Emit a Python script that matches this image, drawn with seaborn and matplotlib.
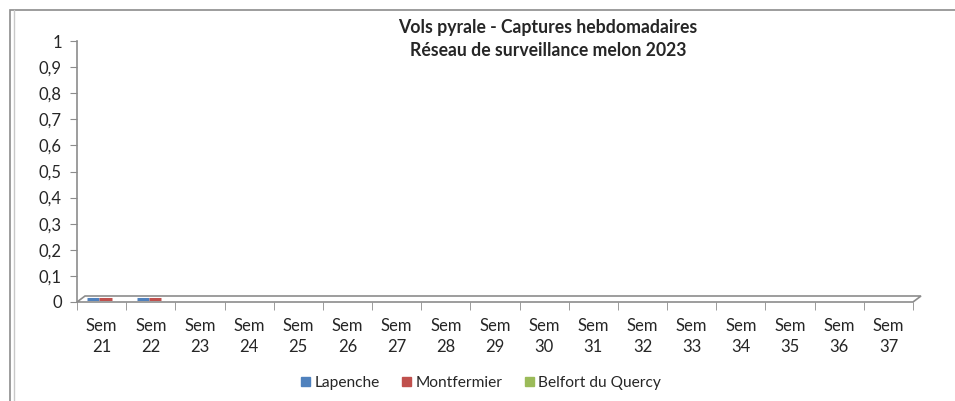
import numpy as np
import pandas as pd
import matplotlib
matplotlib.use("Agg")
import matplotlib.pyplot as plt
from matplotlib.patches import Polygon, Rectangle
from matplotlib.lines import Line2D
import seaborn as sns

# -----------------------------
# Data
# -----------------------------
weeks = [f"Sem\n{w}" for w in range(21, 38)]
sites = ["Lapenche", "Montfermier", "Belfort du Quercy"]
colors = ["#4F81BD", "#C0504D", "#9BBB59"]
lapenche = [0, 0] + [np.nan] * 15
montfermier = [0, 0] + [np.nan] * 15
belfort = [np.nan] * 17
y_ticks = [0, 0.1, 0.2, 0.3, 0.4, 0.5, 0.6, 0.7, 0.8, 0.9, 1]
y_labels = ["0", "0,1", "0,2", "0,3", "0,4", "0,5", "0,6", "0,7", "0,8", "0,9", "1"]

df = pd.DataFrame({"week": weeks * 3,
                   "site": np.repeat(sites, len(weeks)),
                   "captures": lapenche + montfermier + belfort})

sns.set_style("white")
plt.rcParams["font.family"] = ["Lato", "DejaVu Sans"]

fig = plt.figure(figsize=(9.55, 4.01), dpi=100)
ax = fig.add_axes([77 / 955, 1 - 302 / 401, 836 / 955, 261 / 401])

# outer chart frame
fig.patches.append(Rectangle((10 / 955, -0.1), 1.0, 1 - 9.5 / 401 + 0.1,
                             transform=fig.transFigure, fill=False,
                             edgecolor="#8C8C8C", linewidth=1.2))
fig.add_artist(Line2D([14 / 955, 14 / 955], [0, 1 - 10 / 401],
                      transform=fig.transFigure, color="#C8C8C8", lw=1))

# zero-height bars, drawn as flat tops raised onto the 3D floor
sns.barplot(data=df, x="week", y="captures", hue="site", palette=colors,
            ax=ax, width=0.74, dodge=True, legend=False, errorbar=None,
            linewidth=2.2, saturation=1)
for patch in ax.patches:
    patch.set_edgecolor(patch.get_facecolor())
    patch.set_y(0.012)
    patch.set_x(patch.get_x() + 0.08)

n = len(weeks)
ax.set_xlim(-0.5, n - 0.5)
ax.set_ylim(0, 1)

# 3D floor
dx = 8 / (836 / n)
dy = 6 / 261
floor = Polygon([(-0.5, 0), (n - 0.5, 0), (n - 0.5 + dx, dy), (-0.5 + dx, dy)],
                closed=True, fill=False, edgecolor="#8C8C8C", lw=1.2, clip_on=False)
ax.add_patch(floor)

for s in ["top", "right", "bottom"]:
    ax.spines[s].set_visible(False)
ax.spines["left"].set_color("#8C8C8C")
ax.spines["left"].set_linewidth(1.2)

ax.set_yticks(y_ticks)
ax.set_yticklabels(y_labels, fontsize=12)
ax.tick_params(axis="y", left=True, length=5, color="#8C8C8C", pad=6)

ax.set_xticks(np.arange(n))
ax.set_xticklabels(weeks, fontsize=12, linespacing=1.38)
ax.set_xticks(np.arange(n + 1) - 0.5, minor=True)
ax.tick_params(axis="x", which="major", bottom=False, pad=8)
ax.tick_params(axis="x", which="minor", bottom=True, length=6, color="#8C8C8C")
ax.set_xlabel("")
ax.set_ylabel("")

fig.text(548 / 955, 1 - 39 / 401, "Vols pyrale - Captures hebdomadaires\nRéseau de surveillance melon 2023",
         ha="center", va="center", fontsize=12.7, fontweight="bold", linespacing=1.5)

handles = [Rectangle((0, 0), 1, 1, color=c) for c in colors]
fig.legend(handles, sites, loc="center", bbox_to_anchor=(481 / 955, 1 - 383 / 401),
           ncol=3, frameon=False, fontsize=11.2, handlelength=0.6, handleheight=0.6,
           handletextpad=0.25, columnspacing=1.45)

fig.savefig("out.png", dpi=100)
